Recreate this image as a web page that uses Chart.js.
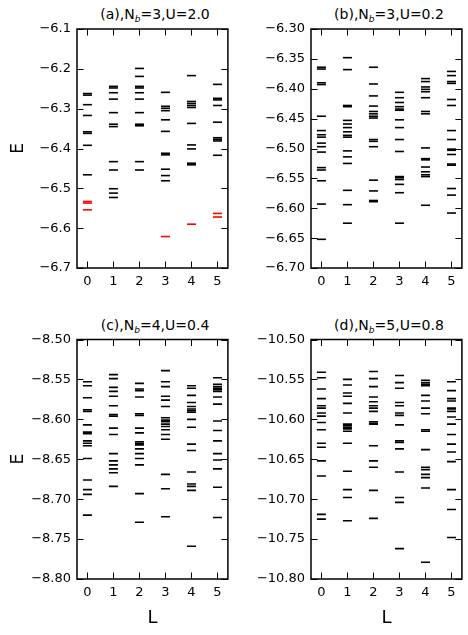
<!DOCTYPE html>
<html>
<head>
<meta charset="utf-8">
<script src="https://cdn.jsdelivr.net/npm/chart.js@4.4.1/dist/chart.umd.min.js"></script>
<style>
  body { margin: 0; width: 468px; height: 635px; background: #fff; position: relative; overflow: hidden; font-family: "DejaVu Sans", sans-serif; }
  canvas { position: absolute; }
  .ttl { position: absolute; width: 156px; text-align: center; font-size: 14px; line-height: 16px; white-space: nowrap; color: #000; }
  .ttl sub { font-size: 9px; font-style: italic; vertical-align: -3px; line-height: 0; }
</style>
</head>
<body>
<div class="ttl" style="left:77px;top:6px">(a),N<sub>b</sub>=3,U=2.0</div>
<div class="ttl" style="left:311px;top:6px">(b),N<sub>b</sub>=3,U=0.2</div>
<div class="ttl" style="left:77px;top:317px">(c),N<sub>b</sub>=4,U=0.4</div>
<div class="ttl" style="left:311px;top:317px">(d),N<sub>b</sub>=5,U=0.8</div>
<canvas id="chartA" width="234" height="300" style="left:0;top:0"></canvas>
<canvas id="chartB" width="234" height="300" style="left:234px;top:0"></canvas>
<canvas id="chartC" width="234" height="330" style="left:0;top:305px"></canvas>
<canvas id="chartD" width="234" height="330" style="left:234px;top:305px"></canvas>
<script>
// angular momentum sectors
const Lvals = [0, 1, 2, 3, 4, 5];

// tick labels
const yTicksA = [-6.7, -6.6, -6.5, -6.4, -6.3, -6.2, -6.1];
const yTicksB = [-6.70, -6.65, -6.60, -6.55, -6.50, -6.45, -6.40, -6.35, -6.30];
const yTicksC = [-8.80, -8.75, -8.70, -8.65, -8.60, -8.55, -8.50];
const yTicksD = [-10.80, -10.75, -10.70, -10.65, -10.60, -10.55, -10.50];

// (a) Nb=3, U=2.0 : levels per L (black) and the lowest ones (red)
const levelsA = [
  [-6.262, -6.266, -6.290, -6.317, -6.358, -6.362, -6.392, -6.466],
  [-6.244, -6.248, -6.260, -6.276, -6.310, -6.339, -6.345, -6.433, -6.454, -6.501, -6.512, -6.523],
  [-6.199, -6.219, -6.244, -6.248, -6.260, -6.276, -6.310, -6.339, -6.343, -6.433, -6.454],
  [-6.259, -6.294, -6.299, -6.305, -6.328, -6.357, -6.412, -6.416, -6.452, -6.468, -6.481],
  [-6.217, -6.282, -6.287, -6.292, -6.297, -6.337, -6.391, -6.401, -6.437, -6.441],
  [-6.239, -6.274, -6.278, -6.292, -6.334, -6.373, -6.377, -6.381, -6.417]
];
const redA = [
  [-6.533, -6.537, -6.554],
  [],
  [],
  [-6.621],
  [-6.590],
  [-6.563, -6.572]
];

// (b) Nb=3, U=0.2
const levelsB = [
  [-6.364, -6.367, -6.390, -6.393, -6.446, -6.470, -6.477, -6.481, -6.491, -6.497, -6.506, -6.532, -6.536, -6.554, -6.593, -6.652],
  [-6.348, -6.368, -6.428, -6.430, -6.453, -6.459, -6.465, -6.472, -6.478, -6.481, -6.504, -6.514, -6.525, -6.570, -6.594, -6.625],
  [-6.364, -6.392, -6.412, -6.429, -6.438, -6.442, -6.446, -6.449, -6.485, -6.488, -6.497, -6.553, -6.571, -6.587, -6.589],
  [-6.406, -6.415, -6.423, -6.430, -6.434, -6.436, -6.452, -6.465, -6.485, -6.505, -6.547, -6.549, -6.552, -6.560, -6.574, -6.625],
  [-6.383, -6.388, -6.397, -6.401, -6.405, -6.415, -6.438, -6.442, -6.499, -6.517, -6.519, -6.531, -6.539, -6.544, -6.547, -6.595],
  [-6.371, -6.378, -6.388, -6.391, -6.418, -6.428, -6.470, -6.485, -6.501, -6.503, -6.510, -6.526, -6.528, -6.567, -6.578, -6.608]
];

// (c) Nb=4, U=0.4
const levelsC = [
  [-8.553, -8.558, -8.573, -8.588, -8.590, -8.607, -8.616, -8.618, -8.627, -8.630, -8.633, -8.649, -8.676, -8.688, -8.694, -8.720],
  [-8.544, -8.549, -8.560, -8.565, -8.571, -8.583, -8.594, -8.596, -8.611, -8.619, -8.643, -8.652, -8.657, -8.662, -8.667, -8.684],
  [-8.555, -8.562, -8.564, -8.572, -8.593, -8.595, -8.611, -8.617, -8.628, -8.630, -8.632, -8.637, -8.643, -8.649, -8.657, -8.693, -8.729],
  [-8.539, -8.553, -8.559, -8.571, -8.576, -8.584, -8.598, -8.601, -8.603, -8.606, -8.609, -8.613, -8.619, -8.625, -8.669, -8.687, -8.722],
  [-8.558, -8.561, -8.570, -8.579, -8.584, -8.587, -8.589, -8.591, -8.600, -8.610, -8.631, -8.639, -8.666, -8.681, -8.684, -8.689, -8.759],
  [-8.548, -8.556, -8.559, -8.561, -8.563, -8.565, -8.572, -8.581, -8.602, -8.614, -8.627, -8.643, -8.651, -8.662, -8.685, -8.723]
];

// (d) Nb=5, U=0.8
const levelsD = [
  [-10.541, -10.548, -10.562, -10.574, -10.583, -10.586, -10.592, -10.596, -10.604, -10.613, -10.630, -10.635, -10.652, -10.671, -10.719, -10.725],
  [-10.550, -10.557, -10.567, -10.571, -10.580, -10.592, -10.606, -10.608, -10.610, -10.612, -10.615, -10.630, -10.665, -10.688, -10.698, -10.727],
  [-10.540, -10.549, -10.559, -10.572, -10.578, -10.583, -10.586, -10.590, -10.603, -10.605, -10.606, -10.633, -10.652, -10.660, -10.689, -10.724],
  [-10.545, -10.554, -10.561, -10.579, -10.583, -10.592, -10.595, -10.607, -10.627, -10.629, -10.637, -10.666, -10.698, -10.704, -10.762],
  [-10.551, -10.554, -10.556, -10.558, -10.570, -10.577, -10.586, -10.593, -10.613, -10.615, -10.638, -10.660, -10.663, -10.669, -10.673, -10.686, -10.779],
  [-10.553, -10.564, -10.574, -10.577, -10.586, -10.587, -10.590, -10.597, -10.606, -10.619, -10.631, -10.641, -10.653, -10.688, -10.713, -10.748]
];

const FONT = 'DejaVu Sans';

function toPoints(levels) {
  const pts = [];
  levels.forEach((list, i) => list.forEach(v => pts.push({ x: Lvals[i], y: v })));
  return pts;
}

function fmt(v, d) {
  return (v < 0 ? '\u2212' : '') + Math.abs(v).toFixed(d);
}

// frame box and inward tick marks on all four sides
const framePlugin = {
  id: 'frame',
  afterDatasetsDraw(chart) {
    const { ctx, chartArea: a, scales: { x, y } } = chart;
    const tl = 6.5;
    ctx.save();
    ctx.strokeStyle = '#000';
    ctx.lineWidth = 1;
    ctx.beginPath();
    x.ticks.forEach(t => {
      const px = Math.round(x.getPixelForValue(t.value)) + 0.5;
      ctx.moveTo(px, a.bottom); ctx.lineTo(px, a.bottom - tl);
      ctx.moveTo(px, a.top); ctx.lineTo(px, a.top + tl);
    });
    y.ticks.forEach(t => {
      const py = Math.round(y.getPixelForValue(t.value)) + 0.5;
      ctx.moveTo(a.left, py); ctx.lineTo(a.left + tl, py);
      ctx.moveTo(a.right, py); ctx.lineTo(a.right - tl, py);
    });
    ctx.stroke();
    ctx.lineWidth = 1.5;
    ctx.strokeRect(a.left, a.top, a.right - a.left, a.bottom - a.top);
    ctx.restore();
  }
};

function makePanel(id, levels, red, yTicks, decimals, padTop, xHeight, showE, showL) {
  const datasets = [{
    data: toPoints(levels),
    pointStyle: 'line',
    pointRadius: 4.5,
    pointBorderWidth: 1.6,
    borderColor: '#000',
    pointBorderColor: '#000',
    showLine: false
  }];
  if (red) {
    datasets.push({
      data: toPoints(red),
      pointStyle: 'line',
      pointRadius: 4.5,
      pointBorderWidth: 1.6,
      borderColor: '#ff0000',
      pointBorderColor: '#ff0000',
      showLine: false
    });
  }
  return new Chart(document.getElementById(id), {
    type: 'scatter',
    data: { datasets: datasets },
    options: {
      responsive: false,
      animation: false,
      devicePixelRatio: 1,
      events: [],
      layout: { padding: { top: padTop, right: 1, left: 0, bottom: 0 } },
      plugins: { legend: { display: false }, tooltip: { enabled: false } },
      scales: {
        x: {
          type: 'linear',
          min: -0.4,
          max: 5.4,
          grid: { display: false, drawTicks: false },
          border: { display: false },
          afterBuildTicks: s => { s.ticks = Lvals.map(v => ({ value: v })); },
          afterFit: s => { s.height = xHeight; s.paddingLeft = 0; s.paddingRight = 0; },
          ticks: {
            padding: 6,
            color: '#000',
            font: { family: FONT, size: 13 },
            callback: v => String(v)
          },
          title: {
            display: showL,
            text: 'L',
            color: '#000',
            font: { family: FONT, size: 18 },
            padding: { top: 0, bottom: 6 }
          }
        },
        y: {
          type: 'linear',
          min: yTicks[0],
          max: yTicks[yTicks.length - 1],
          grid: { display: false, drawTicks: false },
          border: { display: false },
          afterBuildTicks: s => { s.ticks = yTicks.map(v => ({ value: v })); },
          afterFit: s => { s.width = 77; s.paddingTop = 0; s.paddingBottom = 0; },
          ticks: {
            padding: 6,
            color: '#000',
            font: { family: FONT, size: 13 },
            callback: v => fmt(v, decimals)
          },
          title: {
            display: showE,
            text: 'E',
            color: '#000',
            font: { family: FONT, size: 17 },
            padding: { top: 8, bottom: 0 }
          }
        }
      }
    },
    plugins: [framePlugin]
  });
}

makePanel('chartA', levelsA, redA, yTicksA, 1, 29, 32, true, false);
makePanel('chartB', levelsB, null, yTicksB, 2, 29, 32, false, false);
makePanel('chartC', levelsC, null, yTicksC, 2, 34.5, 56, true, true);
makePanel('chartD', levelsD, null, yTicksD, 2, 34.5, 56, false, true);
</script>
</body>
</html>
